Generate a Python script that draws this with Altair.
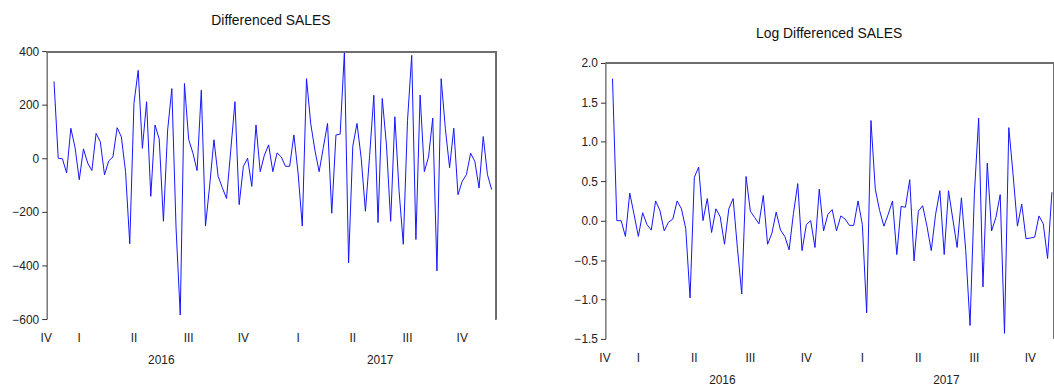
import altair as alt
import pandas as pd

diff_sales = [
    287, 0, -2, -55, 112, 40, -80, 35, -18, -46,
    93, 62, -62, -10, 5, 114, 80, -50, -319, 205,
    328, 37, 211, -142, 124, 72, -235, 105, 260, -260,
    -585, 279, 70, 20, -46, 254, -253, -100, 69, -67,
    -110, -150, 30, 211, -173, -30, 0, -105, 124, -50,
    12, 50, -50, 20, 5, -30, -30, 87, -55, -253,
    297, 130, 30, -50, 40, 130, -205, 87, 90, 396,
    -390, 45, 130, 0, -198, 10, 235, -240, 223, 50,
    -235, 155, -123, -321, 140, 384, -303, 236, -50, 5,
    150, -420, 297, 110, -35, 112, -136, -86, -61, 19,
    -12, -111, 81, -61, -117,
]

log_diff_sales = [
    1.80, 0.0, 0.0, -0.20, 0.35, 0.08, -0.20, 0.10, -0.05, -0.12,
    0.25, 0.13, -0.13, -0.02, 0.02, 0.25, 0.15, -0.10, -0.98, 0.55,
    0.68, 0.0, 0.28, -0.15, 0.15, 0.05, -0.30, 0.15, 0.28, -0.35,
    -0.93, 0.56, 0.12, 0.04, -0.04, 0.32, -0.30, -0.16, 0.11, -0.12,
    -0.20, -0.37, 0.09, 0.47, -0.38, -0.05, 0.0, -0.34, 0.40, -0.13,
    0.08, 0.14, -0.13, 0.06, 0.02, -0.06, -0.06, 0.25, -0.05, -1.17,
    1.27, 0.40, 0.13, -0.07, 0.08, 0.25, -0.43, 0.18, 0.17, 0.52,
    -0.51, 0.12, 0.19, -0.07, -0.38, 0.08, 0.38, -0.43, 0.38, 0.02,
    -0.34, 0.29, -0.38, -1.33, 0.33, 1.30, -0.84, 0.73, -0.13, 0.04,
    0.33, -1.43, 1.18, 0.58, -0.07, 0.21, -0.23, -0.22, -0.21, 0.06,
    -0.04, -0.48, 0.36,
]

quarter_names = ["IV", "I", "II", "III", "IV", "I", "II", "III", "IV"]
year_names = ["2016", "2017"]

left_y_ticks = [-600, -400, -200, 0, 200, 400]
right_y_ticks = [-1.5, -1.0, -0.5, 0.0, 0.5, 1.0, 1.5, 2.0]

WEEKS_PER_Q = 13
FONT = "Liberation Sans"
TXT = "#222222"
FRAME = "#6e6e6e"


def panel(values, title, ydom, yvals, yfmt, xdom, w, h, top_gap, title_offset):
    """top_gap: empty pixels between the cell top and the plotting frame."""
    df = pd.DataFrame({"week": [i + 0.5 for i in range(len(values))],
                       "value": values})
    xs = alt.Scale(domain=xdom, nice=False, zero=False)
    ys = alt.Scale(domain=ydom, nice=False, zero=False, range=[h, top_gap])
    qticks = [q * WEEKS_PER_Q for q in range(8)]

    line = alt.Chart(df).mark_line(color="#1414ff", strokeWidth=1).encode(
        x=alt.X("week:Q", scale=xs,
                axis=alt.Axis(values=qticks, labels=False, title=None,
                              grid=False, tickSize=6)),
        y=alt.Y("value:Q", scale=ys,
                axis=alt.Axis(values=yvals, format=yfmt, title=None,
                              grid=False, tickSize=5, labelPadding=3)),
    )

    # frame: top and right edges of the plotting box
    top_edge = alt.Chart(df).mark_rule(color=FRAME, strokeWidth=1,
                                       yOffset=0.5).encode(
        x=alt.datum(xdom[0], scale=xs), x2=alt.datum(xdom[1]),
        y=alt.datum(ydom[1], scale=ys),
    )
    right_edge = alt.Chart(df).mark_rule(color=FRAME, strokeWidth=1,
                                         xOffset=0.5).encode(
        x=alt.datum(xdom[1], scale=xs),
        y=alt.datum(ydom[0], scale=ys), y2=alt.datum(ydom[1]),
    )

    qpos = [xdom[0] - 0.1] + [WEEKS_PER_Q * k + WEEKS_PER_Q / 2 for k in range(8)]
    qdf = pd.DataFrame({"pos": qpos, "label": quarter_names})
    qtext = alt.Chart(qdf).mark_text(font=FONT, fontSize=12, color=TXT,
                                     baseline="middle", align="center").encode(
        x=alt.X("pos:Q", scale=xs, axis=None),
        y=alt.value(h + 19),
        text="label:N",
    )

    ydf = pd.DataFrame({"pos": [2 * WEEKS_PER_Q, 6 * WEEKS_PER_Q],
                        "label": year_names})
    ytext = alt.Chart(ydf).mark_text(font=FONT, fontSize=12, color=TXT,
                                     baseline="middle", align="center").encode(
        x=alt.X("pos:Q", scale=xs, axis=None),
        y=alt.value(h + 41),
        text="label:N",
    )

    return alt.layer(line, top_edge, right_edge, qtext, ytext).properties(
        width=w, height=h,
        view=alt.ViewBackground(strokeOpacity=0),
        title=alt.TitleParams(text=title, font=FONT, fontSize=14,
                              fontWeight="normal", color="#111111",
                              offset=title_offset, anchor="middle"),
    )


left = panel(diff_sales, "Differenced SALES", [-600, 400], left_y_ticks, "d",
             [-1.25, 105.35], 452, 270, 0, 17)
right = panel(log_diff_sales, "Log Differenced SALES", [-1.5, 2.0],
              right_y_ticks, ".1f", [-1.15, 102.76], 451, 290, 12, 10)

chart = alt.hconcat(left, right, spacing=78).properties(
    padding={"left": 11, "top": 13, "right": 0, "bottom": 0},
    background="white",
).configure_axis(
    labelFont=FONT, labelFontSize=12, labelColor=TXT,
    domainColor="#333333", tickColor="#333333", domainWidth=1,
)

chart.save("out.html", embed_options={"renderer": "svg", "actions": False})
